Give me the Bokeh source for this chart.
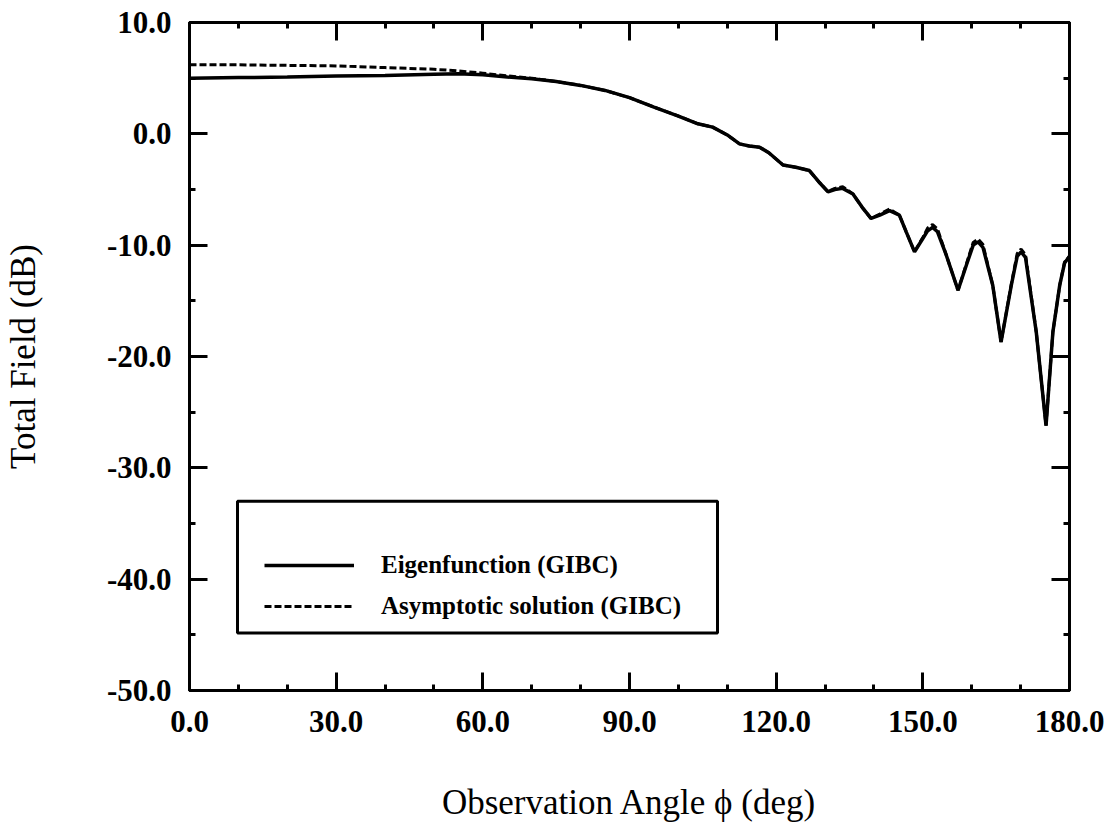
from bokeh.plotting import figure
from bokeh.models import (LinearAxis, FixedTicker, PrintfTickFormatter, CustomJSTickFormatter,
                          Legend, LegendItem, BoxAnnotation, Range1d)
from bokeh.embed import file_html
from bokeh.resources import INLINE

# ---- data ----
x_major_ticks = [0, 30, 60, 90, 120, 150, 180]
x_minor_ticks = [10, 20, 40, 50, 70, 80, 100, 110, 130, 140, 160, 170]
y_major_ticks = [-50, -40, -30, -20, -10, 0, 10]
y_minor_ticks = [-45, -35, -25, -15, -5, 5]

eig_angle = [0, 10, 20, 30, 40, 50, 55, 60, 65, 70,
             75, 80, 85, 90, 95, 100, 104, 107, 110, 112.5,
             114.5, 116.6, 118.5, 121.4, 124, 126.8, 128.7, 130.6, 132, 133.6,
             135.7, 137.6, 139.4, 141.2, 143.2, 145.2, 146.6, 148.3, 150, 151,
             152, 153, 154.8, 157.2, 158.9, 160.3, 161.3, 162.3, 164.3, 166,
             168.1, 169.3, 170.1, 171, 173.2, 175.2, 176.6, 178, 179, 180]
eig_db = [5.0, 5.05, 5.1, 5.2, 5.25, 5.35, 5.4, 5.3, 5.1, 4.95,
          4.7, 4.35, 3.9, 3.25, 2.4, 1.6, 0.9, 0.6, -0.1, -0.9,
          -1.1, -1.2, -1.7, -2.8, -3.0, -3.3, -4.3, -5.2, -5.0, -4.9,
          -5.4, -6.6, -7.6, -7.3, -6.9, -7.3, -8.8, -10.6, -9.4, -8.7,
          -8.4, -8.8, -10.9, -14.05, -11.8, -10.0, -9.7, -10.2, -13.6, -18.7,
          -13.6, -11.0, -10.6, -11.1, -17.8, -26.2, -17.8, -13.6, -11.6, -11.0]

asy_angle = [0, 10, 20, 30, 40, 50, 55, 60, 65, 70,
             75, 80, 85, 90, 95, 100, 104, 107, 110, 112.5,
             114.5, 116.6, 118.5, 121.4, 124, 126.8, 128.7, 130.6, 132, 133.6,
             135.7, 137.6, 139.4, 141.2, 143.2, 145.2, 146.6, 148.3, 150, 151,
             152, 153, 154.8, 157.2, 158.9, 160.3, 161.3, 162.3, 164.3, 166,
             168.1, 169.3, 170.1, 171, 173.2, 175.2, 176.6, 178, 179, 180]
asy_db = [6.2, 6.2, 6.15, 6.1, 5.95, 5.8, 5.65, 5.45, 5.2, 5.0,
          4.7, 4.35, 3.9, 3.25, 2.4, 1.6, 0.9, 0.6, -0.1, -0.9,
          -1.1, -1.2, -1.7, -2.8, -3.0, -3.3, -4.3, -5.2, -4.9, -4.75,
          -5.4, -6.6, -7.6, -7.2, -6.75, -7.3, -8.8, -10.6, -9.3, -8.45,
          -8.15, -8.55, -10.9, -14.05, -11.7, -9.75, -9.45, -9.95, -13.6, -18.7,
          -13.5, -10.75, -10.35, -10.85, -17.8, -26.2, -17.8, -13.6, -11.5, -11.0]

labels = ["Eigenfunction (GIBC)", "Asymptotic solution (GIBC)"]
x_label = "Observation Angle \u03d5 (deg)"
y_label = "Total Field (dB)"

SERIF = "Liberation Serif"

p = figure(frame_width=880, frame_height=668,
           min_border_left=188, min_border_right=40, min_border_top=22, min_border_bottom=131,
           x_range=Range1d(0, 180), y_range=Range1d(-50, 10),
           output_backend="svg", toolbar_location=None,
           x_axis_label=x_label, y_axis_label=y_label)
p.xgrid.visible = False
p.ygrid.visible = False
p.outline_line_color = "black"
p.outline_line_width = 3
p.background_fill_color = "white"
p.border_fill_color = "white"

def style_axis(ax, ticks, minors, labelled):
    ax.ticker = FixedTicker(ticks=ticks, minor_ticks=minors)
    ax.axis_line_width = 3
    ax.axis_line_color = "black"
    ax.major_tick_in = 18
    ax.major_tick_out = 0
    ax.minor_tick_in = 6
    ax.minor_tick_out = 0
    ax.major_tick_line_width = 3
    ax.minor_tick_line_width = 3
    if labelled:
        ax.formatter = PrintfTickFormatter(format="%.1f")
        ax.major_label_text_font = SERIF
        ax.major_label_text_font_style = "bold"
        ax.major_label_text_font_size = "31px"
        ax.major_label_text_color = "black"
        ax.axis_label_text_font = SERIF
        ax.axis_label_text_font_style = "normal"
        ax.axis_label_text_font_size = "35px"
        ax.axis_label_text_color = "black"
    else:
        ax.formatter = CustomJSTickFormatter(code="return ''")
        ax.major_label_standoff = 0

xa = p.xaxis[0]
ya = p.yaxis[0]
style_axis(xa, x_major_ticks, x_minor_ticks, True)
style_axis(ya, y_major_ticks, y_minor_ticks, True)
xa.major_label_standoff = 20
xa.axis_label_standoff = 48
ya.major_label_standoff = 18
ya.axis_label_standoff = 61

top = LinearAxis()
style_axis(top, x_major_ticks, x_minor_ticks, False)
p.add_layout(top, "above")
right = LinearAxis()
style_axis(right, y_major_ticks, y_minor_ticks, False)
p.add_layout(right, "right")

r_dash = p.line(asy_angle, asy_db, line_color="black", line_width=3, line_dash="7 3")
r_solid = p.line(eig_angle, eig_db, line_color="black", line_width=3.5)

box = BoxAnnotation(left=9.82, right=108.0, top=-33.0, bottom=-44.84,
                    fill_color="white", fill_alpha=1.0,
                    line_color="black", line_alpha=1.0, line_width=3)
p.add_layout(box)

legend = Legend(items=[LegendItem(label=labels[0], renderers=[r_solid]),
                       LegendItem(label=labels[1], renderers=[r_dash])],
                location=(75, 69), border_line_color=None, background_fill_alpha=0,
                padding=0, margin=0, spacing=11, glyph_width=90, glyph_height=30,
                label_height=30, label_standoff=27,
                label_text_font=SERIF, label_text_font_style="bold",
                label_text_font_size="25px", label_text_color="black")
p.add_layout(legend)

open("out.html", "w").write(file_html(p, INLINE))
